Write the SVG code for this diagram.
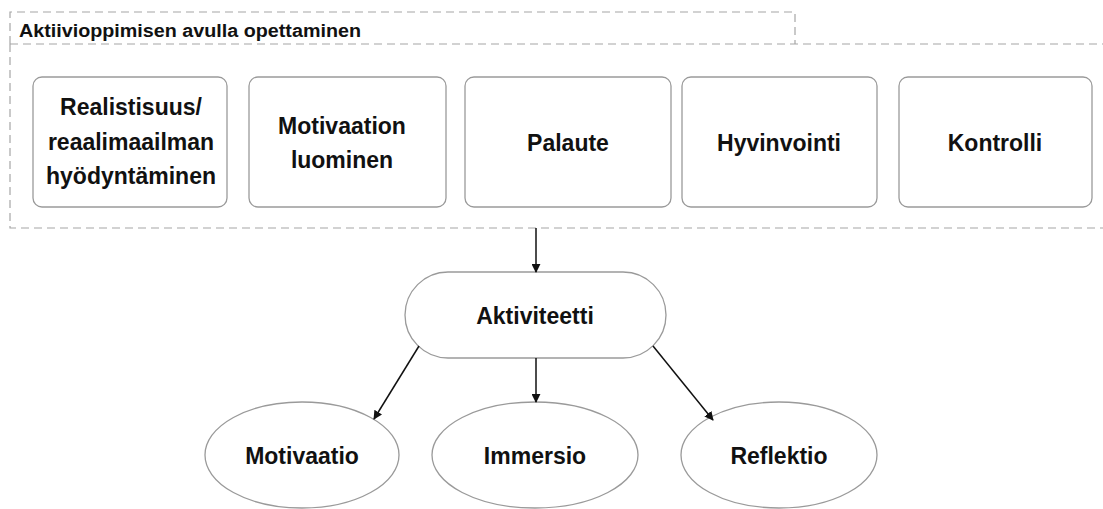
<svg xmlns="http://www.w3.org/2000/svg" width="1103" height="509" viewBox="0 0 1103 509">
<style>
.frame{fill:none;stroke:#a6a6a6;stroke-width:1.2;stroke-dasharray:8,5}
.box{fill:#fff;stroke:#9a9a9a;stroke-width:1.3}
.t{font-family:"Liberation Sans",Arial,sans-serif;font-weight:bold;font-size:23px;fill:#111;text-anchor:middle}
.title{font-family:"Liberation Sans",Arial,sans-serif;font-weight:bold;font-size:18px;fill:#111}
.c{fill:none;stroke:#111;stroke-width:1.5;marker-end:url(#ah)}
</style>
<defs>
<marker id="ah" viewBox="0 0 10 10" refX="9" refY="5" markerWidth="9" markerHeight="9" markerUnits="userSpaceOnUse" orient="auto">
<path d="M0,0 L10,5 L0,10 z" fill="#111"/>
</marker>
</defs>
<rect width="1103" height="509" fill="#fff"/>
<g id="frame">
<path class="frame" d="M10,44 V12 H795 V44"/>
<path class="frame" d="M10,44 H1110"/>
<path class="frame" d="M10,44 V228 H1110"/>
<text class="title" x="19" y="37" textLength="342" lengthAdjust="spacingAndGlyphs">Aktiivioppimisen avulla opettaminen</text>
</g>
<g id="n1"><rect class="box" x="33" y="77" width="194" height="130" rx="9"/>
<text class="t" x="131" y="115">Realistisuus/</text>
<text class="t" x="131" y="150">reaalimaailman</text>
<text class="t" x="131" y="184">hyödyntäminen</text></g>
<g id="n2"><rect class="box" x="249" y="77" width="197" height="130" rx="9"/>
<text class="t" x="342" y="134">Motivaation</text>
<text class="t" x="342" y="168">luominen</text></g>
<g id="n3"><rect class="box" x="465" y="77" width="206" height="130" rx="9"/>
<text class="t" x="568" y="151">Palaute</text></g>
<g id="n4"><rect class="box" x="682" y="77" width="195" height="130" rx="9"/>
<text class="t" x="779" y="151">Hyvinvointi</text></g>
<g id="n5"><rect class="box" x="899" y="77" width="193" height="130" rx="9"/>
<text class="t" x="995" y="151">Kontrolli</text></g>
<g id="aktiviteetti"><rect class="box" x="405" y="272" width="261" height="86" rx="43"/>
<text class="t" x="535" y="324">Aktiviteetti</text></g>
<g id="motivaatio"><ellipse class="box" cx="302" cy="455" rx="97" ry="53"/>
<text class="t" x="302" y="464">Motivaatio</text></g>
<g id="immersio"><ellipse class="box" cx="535" cy="455" rx="103" ry="53"/>
<text class="t" x="535" y="464">Immersio</text></g>
<g id="reflektio"><ellipse class="box" cx="779" cy="455" rx="98" ry="53"/>
<text class="t" x="779" y="464">Reflektio</text></g>
<g id="connectors">
<line class="c" x1="536" y1="228" x2="536" y2="272"/>
<line class="c" x1="419" y1="346" x2="374" y2="419"/>
<line class="c" x1="536" y1="358" x2="536" y2="402"/>
<line class="c" x1="653" y1="346" x2="713" y2="420"/>
</g>
</svg>
